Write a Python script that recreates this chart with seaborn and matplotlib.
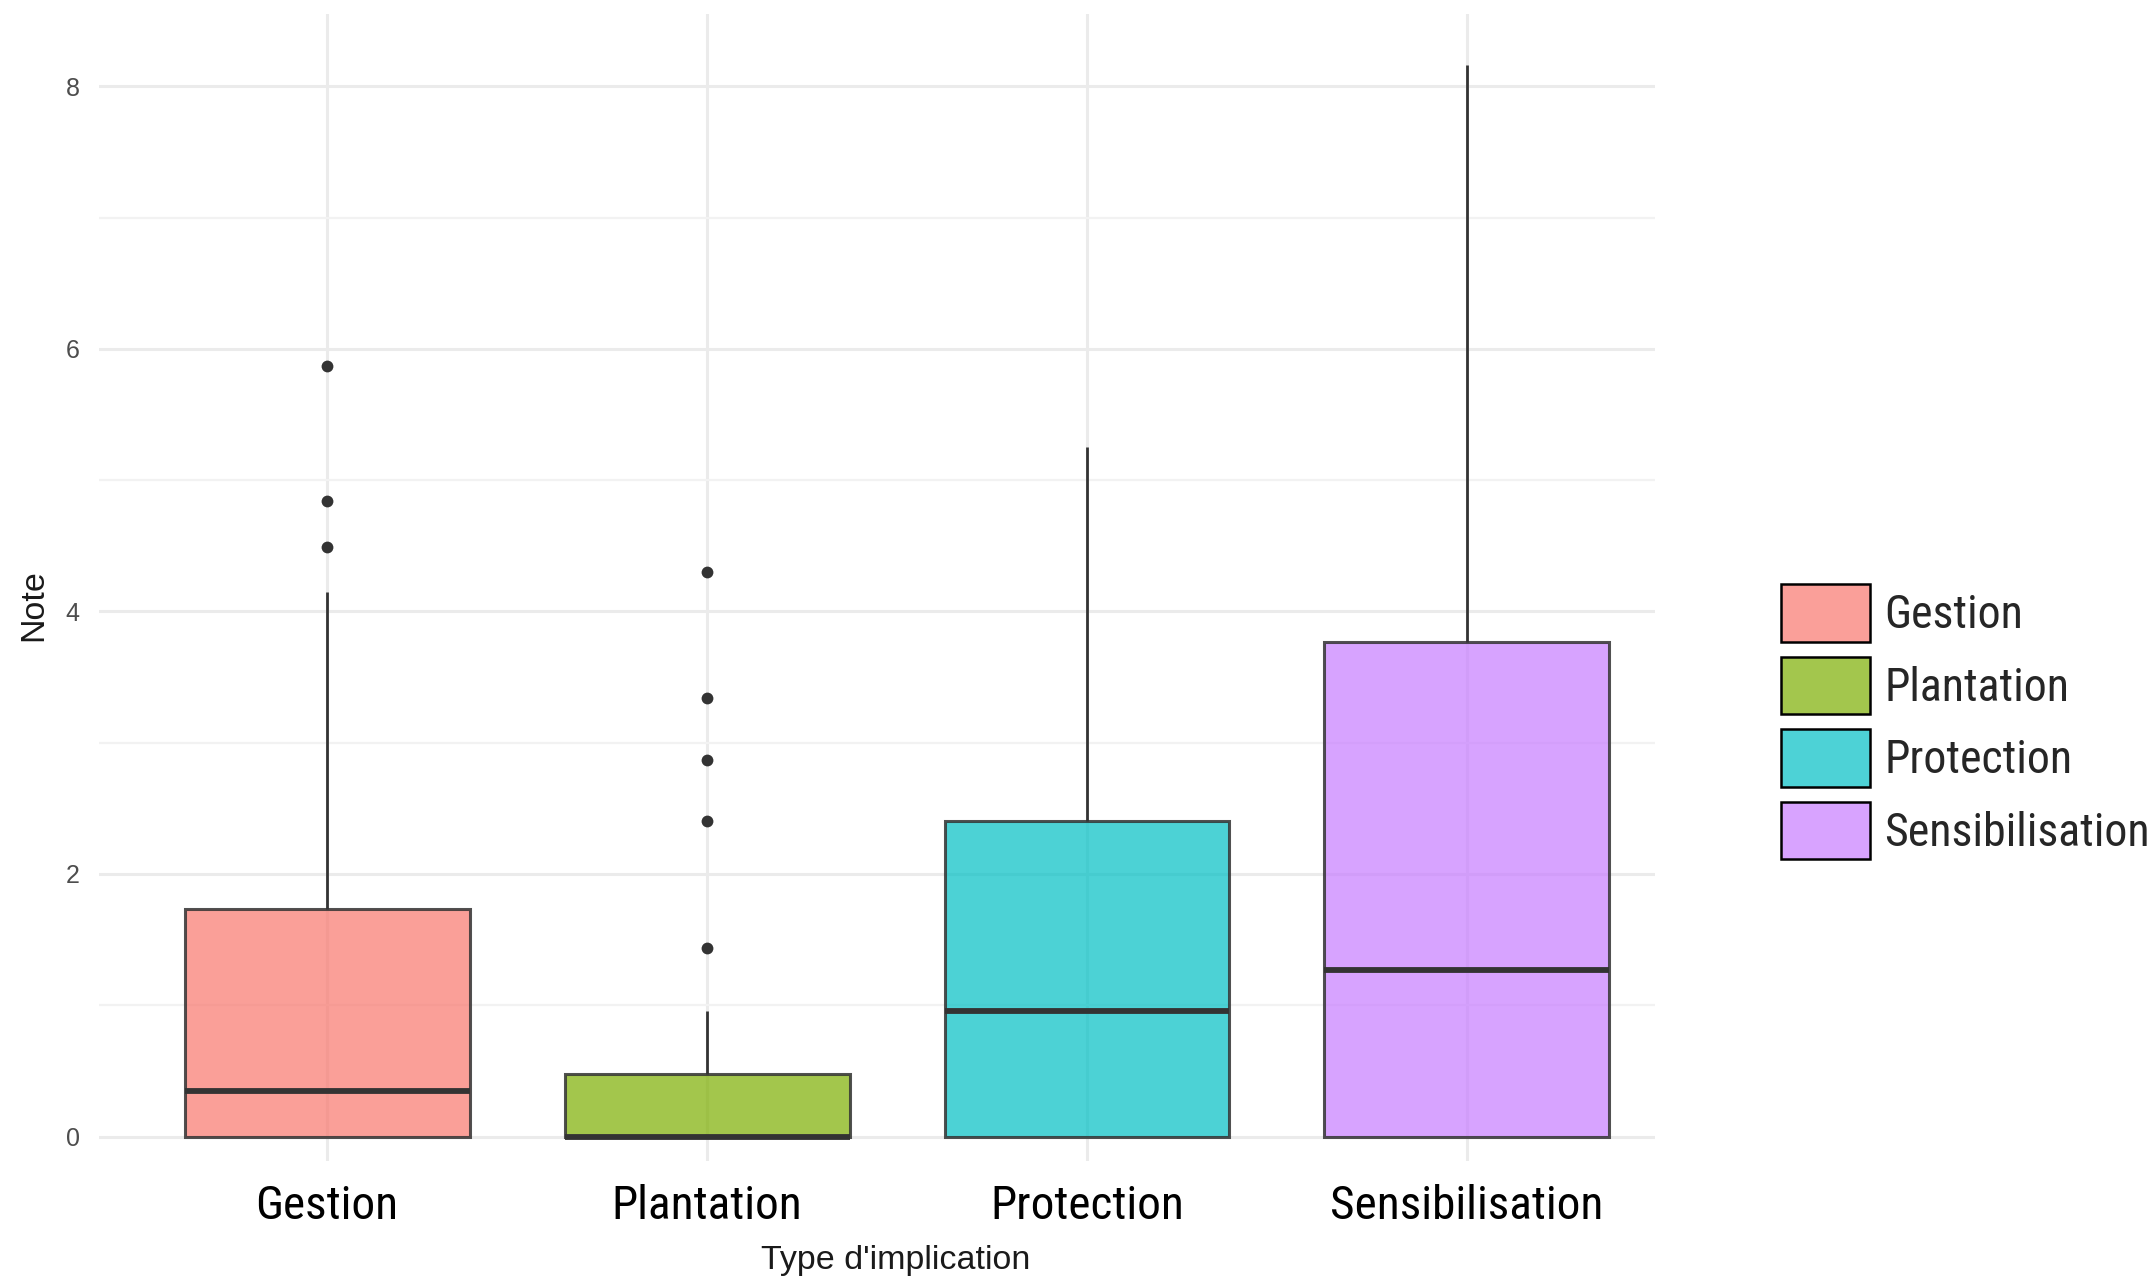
import matplotlib
matplotlib.use("Agg")
import matplotlib.pyplot as plt
from matplotlib import font_manager as fm
from matplotlib.patches import Patch
from matplotlib.colors import to_rgba
import seaborn as sns
import pandas as pd

# ---------------- data ----------------
categories = ["Gestion", "Plantation", "Protection", "Sensibilisation"]
gestion_vals = [0, 0, 0, 0, 0, 0.1, 0.2, 0.3, 0.35, 0.6, 0.9, 1.3, 1.73,
                4.15, 4.49, 4.84, 5.87]
plantation_vals = [0, 0, 0, 0, 0, 0, 0, 0, 0, 0, 0, 0, 0,
                   0.1, 0.15, 0.25, 0.3, 0.4, 0.48, 0.96,
                   1.44, 2.40, 2.87, 3.34, 4.30]
protection_vals = [0, 0, 0, 0.5, 0.96, 1.6, 2.40, 3.5, 5.25]
sensibilisation_vals = [0, 0, 0, 0.6, 1.27, 2.5, 3.77, 5.9, 8.16]
base_colors = ["#F8766D", "#7CAE00", "#00BFC4", "#C77CFF"]
y_ticks = [0, 2, 4, 6, 8]
x_title = "Type d'implication"
y_title = "Note"

rows = []
for cat, vals in zip(categories,
                     [gestion_vals, plantation_vals, protection_vals, sensibilisation_vals]):
    rows += [(cat, v) for v in vals]
df = pd.DataFrame(rows, columns=["Type", "Note"])

# ---------------- fonts ----------------
names = {f.name for f in fm.fontManager.ttflist}
cond = None
for cand in ["Liberation Sans Narrow", "Roboto Condensed", "Open Sans Condensed",
             "DejaVu Sans Condensed", "Noto Sans Condensed"]:
    if cand in names:
        cond = cand
        break
if cond is None:
    for n in sorted(names):
        if "Condensed" in n or "Narrow" in n:
            cond = n
            break
if cond is None:
    cond = "Liberation Sans"
sans = "Liberation Sans" if "Liberation Sans" in names else "DejaVu Sans"

sns.set_theme(style="whitegrid")
plt.rcParams["font.family"] = [sans, "DejaVu Sans"]

fig = plt.figure(figsize=(21.55, 12.82), dpi=100)
ax = fig.add_axes([0.046, 0.094, 0.722, 0.895])

sns.boxplot(data=df, x="Type", y="Note", hue="Type", order=categories,
            hue_order=categories, palette=base_colors, saturation=1, width=0.75,
            linecolor="#333333", linewidth=2.2, showcaps=False,
            whis=1.5, legend=False, ax=ax,
            medianprops=dict(linewidth=4.2, color="#333333"),
            flierprops=dict(marker="o", markersize=8.5, markerfacecolor="#333333",
                            markeredgecolor="#333333", markeredgewidth=0),
            whiskerprops=dict(linewidth=2.0, color="#333333"),
            boxprops=dict(edgecolor="#333333"))

for p in ax.patches:
    fc = p.get_facecolor()
    p.set_facecolor((fc[0], fc[1], fc[2], 0.7))
    p.set_edgecolor((0.2, 0.2, 0.2, 0.85))

ax.set_axisbelow(True)
ax.set_xlim(-0.6, 3.495)
ax.set_ylim(-0.19, 8.55)
ax.set_yticks(y_ticks)
ax.set_yticks([1, 3, 5, 7], minor=True)
ax.grid(True, which="major", color="#EBEBEB", linewidth=2.2)
ax.grid(True, which="minor", axis="y", color="#F2F2F2", linewidth=1.6)
ax.tick_params(axis="y", which="minor", length=0)
for s in ax.spines.values():
    s.set_visible(False)
ax.set_facecolor("white")

ax.tick_params(axis="y", labelsize=18, labelcolor="#4D4D4D", length=0, pad=14)
ax.tick_params(axis="x", length=0, pad=16)
for lab in ax.get_xticklabels():
    lab.set_fontfamily([cond, "DejaVu Sans"])
    lab.set_fontsize(34)
    lab.set_color("black")

ax.set_xlabel(x_title, fontsize=24.5, color="#1A1A1A")
ax.xaxis.set_label_coords(0.512, -0.073)
ax.set_ylabel(y_title, fontsize=24.5, color="#1A1A1A")
ax.yaxis.set_label_coords(-0.032, 0.485)

fills = []
for c in base_colors:
    r, g, b, _ = to_rgba(c)
    fills.append((r * 0.7 + 0.3, g * 0.7 + 0.3, b * 0.7 + 0.3))
handles = [Patch(facecolor=f, edgecolor="black", linewidth=1.8, label=c)
           for f, c in zip(fills, categories)]
fig.legend(handles=handles, loc="center left", bbox_to_anchor=(0.818, 0.437),
           frameon=False, prop=fm.FontProperties(family=[cond, "DejaVu Sans"], size=33),
           handlelength=1.95, handleheight=1.55, labelspacing=0.33,
           handletextpad=0.3, borderaxespad=0)

fig.savefig("out.png", dpi=100, facecolor="white")
